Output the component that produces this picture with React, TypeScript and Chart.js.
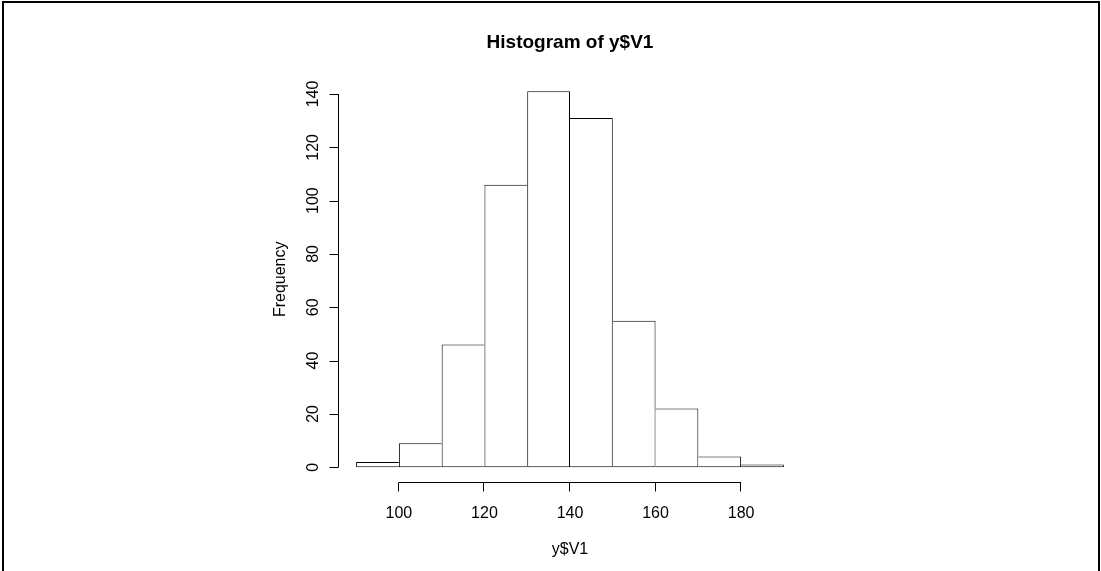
import React, { useRef, useEffect } from 'react';
import { Chart, registerables } from 'chart.js';
import type { Plugin } from 'chart.js';

Chart.register(...registerables);

// histogram bins of y$V1 (width 10) and their counts
const binStarts = [90, 100, 110, 120, 130, 140, 150, 160, 170, 180];
const binWidth = 10;
const counts = [2, 9, 46, 106, 141, 131, 55, 22, 4, 1];
const xTicks = [100, 120, 140, 160, 180];
const yTicks = [0, 20, 40, 60, 80, 100, 120, 140];

const chartTitle = 'Histogram of y$V1';
const xTitle = 'y$V1';
const yTitle = 'Frequency';

const FONT = "'Liberation Sans', Arial, Helvetica, sans-serif";

// R-style axes: lines only span the tick range, ticks pointing outward
const rAxes: Plugin<'bar'> = {
  id: 'rAxes',
  afterDraw(chart) {
    const { ctx, chartArea, scales } = chart;
    const x = scales.x;
    const y = scales.y;
    const tickLen = 9;
    ctx.save();
    ctx.strokeStyle = '#000';
    ctx.fillStyle = '#000';
    ctx.lineWidth = 1;

    // y axis
    const ax = Math.round(chartArea.left) - 0.5;
    ctx.beginPath();
    ctx.moveTo(ax, y.getPixelForValue(yTicks[0]));
    ctx.lineTo(ax, y.getPixelForValue(yTicks[yTicks.length - 1]));
    yTicks.forEach(v => {
      const py = Math.round(y.getPixelForValue(v)) + 0.5;
      ctx.moveTo(ax, py);
      ctx.lineTo(ax - tickLen, py);
    });
    ctx.stroke();
    ctx.font = `16px ${FONT}`;
    ctx.textAlign = 'center';
    ctx.textBaseline = 'middle';
    yTicks.forEach(v => {
      ctx.save();
      ctx.translate(chartArea.left - 25, y.getPixelForValue(v));
      ctx.rotate(-Math.PI / 2);
      ctx.fillText(String(v), 0, 0);
      ctx.restore();
    });

    // x axis
    const ay = Math.round(chartArea.bottom) + 0.5;
    ctx.beginPath();
    ctx.moveTo(x.getPixelForValue(xTicks[0]), ay);
    ctx.lineTo(x.getPixelForValue(xTicks[xTicks.length - 1]), ay);
    xTicks.forEach(v => {
      const px = Math.round(x.getPixelForValue(v)) - 0.5;
      ctx.moveTo(px, ay);
      ctx.lineTo(px, ay + tickLen);
    });
    ctx.stroke();
    xTicks.forEach(v => {
      ctx.fillText(String(v), x.getPixelForValue(v), chartArea.bottom + 31);
    });

    // titles
    const cx = (chartArea.left + chartArea.right) / 2;
    ctx.fillText(xTitle, cx, chartArea.bottom + 67);
    ctx.save();
    ctx.translate(chartArea.left - 58, (chartArea.top + chartArea.bottom) / 2);
    ctx.rotate(-Math.PI / 2);
    ctx.fillText(yTitle, 0, 0);
    ctx.restore();
    ctx.font = `bold 19px ${FONT}`;
    ctx.textBaseline = 'alphabetic';
    ctx.fillText(chartTitle, cx, 48);

    // device frame
    ctx.fillRect(2, 1, 2, 570);
    ctx.fillRect(2, 1, 1098, 2);
    ctx.fillRect(1098, 1, 2, 570);
    ctx.restore();
  },
};

const App: React.FC = () => {
  const canvasRef = useRef<HTMLCanvasElement>(null);

  useEffect(() => {
    document.body.style.margin = '0';
    if (!canvasRef.current) return;
    const last = counts.length - 1;
    const chart = new Chart(canvasRef.current, {
      type: 'bar',
      data: {
        datasets: [
          {
            data: binStarts.map((b, i) => ({ x: b + binWidth / 2, y: counts[i] })),
            backgroundColor: '#ffffff',
            borderColor: '#000000',
            borderSkipped: false,
            inflateAmount: 0,
            // draw each shared edge once, on the taller bar
            borderWidth: (c: any) => {
              const i = c.dataIndex;
              const v = counts[i];
              return {
                top: 1,
                bottom: 1,
                left: i === 0 || v >= counts[i - 1] ? 1 : 0,
                right: i === last || v > counts[i + 1] ? 1 : 0,
              };
            },
            barPercentage: 1,
            categoryPercentage: 1,
          },
        ],
      },
      options: {
        animation: false,
        responsive: true,
        maintainAspectRatio: false,
        layout: { padding: { left: 339, right: 300, top: 76.3, bottom: 88.7 } },
        plugins: {
          legend: { display: false },
          tooltip: { enabled: false },
          title: { display: false },
        },
        scales: {
          x: { type: 'linear', min: 86, max: 194, offset: false, display: false },
          y: { type: 'linear', min: -5.64, max: 146.64, display: false },
        },
      },
      plugins: [rAxes],
    });
    return () => chart.destroy();
  }, []);

  return (
    <div style={{ width: 1101, height: 571, position: 'relative', background: '#fff' }}>
      <canvas ref={canvasRef}></canvas>
    </div>
  );
};

export default App;
